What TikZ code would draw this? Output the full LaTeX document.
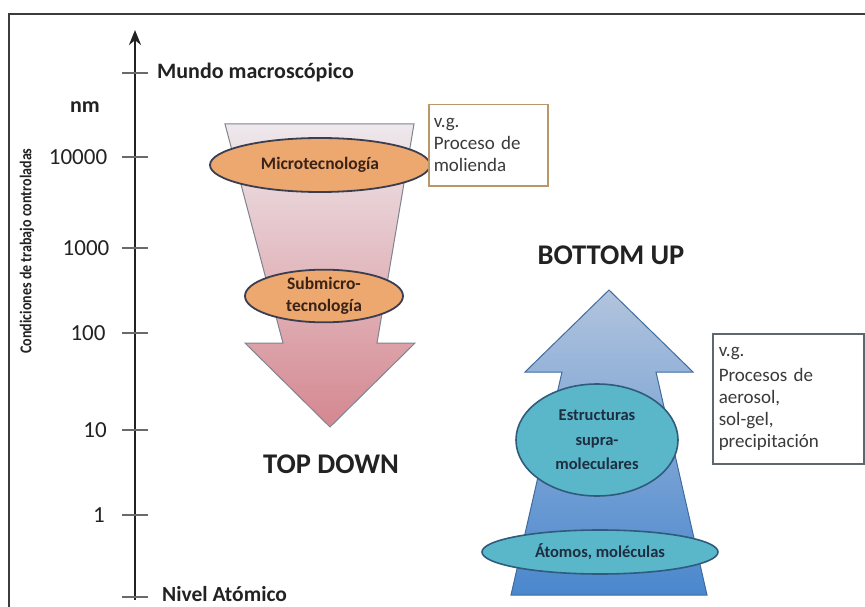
\documentclass[tikz,border=0pt]{standalone}
\usepackage{fontspec}
\setmainfont{Carlito}
\usetikzlibrary{shapes.geometric,arrows.meta}
\definecolor{framec}{HTML}{3C3C3C}
\definecolor{axisc}{HTML}{222222}
\definecolor{tickc}{HTML}{6A6A6A}
\definecolor{tdtop}{HTML}{EEE8EC}
\definecolor{tdmid}{HTML}{E3C8CE}
\definecolor{tdbot}{HTML}{D5878F}
\definecolor{tdline}{HTML}{7E8490}
\definecolor{butop}{HTML}{B2C4DD}
\definecolor{bumid}{HTML}{8CAEDA}
\definecolor{bubot}{HTML}{4A87CE}
\definecolor{buline}{HTML}{3F6C9E}
\definecolor{orfill}{HTML}{ECA86E}
\definecolor{orline}{HTML}{3A3E50}
\definecolor{ortext}{HTML}{3A2218}
\definecolor{tlfill}{HTML}{5AB7C9}
\definecolor{tlline}{HTML}{2F5B7C}
\definecolor{tltext}{HTML}{1E2D40}
\definecolor{boxone}{HTML}{B8976A}
\definecolor{boxtwo}{HTML}{5E666E}
\definecolor{boxtext}{HTML}{3A3A3A}
\tikzset{
  tickmark/.style={draw=tickc, line width=1.5pt},
  axlabel/.style={inner sep=0pt, text=axisc, font=\bfseries\fontsize{22}{24}\selectfont},
  numlabel/.style={inner sep=0pt, text=axisc, font=\fontsize{23}{26}\selectfont},
  bigtitle/.style={inner sep=0pt, text=axisc, font=\bfseries\fontsize{28.5}{32}\selectfont},
  orell/.style={ellipse, draw=orline, line width=1.8pt, fill=orfill, inner sep=0pt,
     text=ortext, align=center, font=\bfseries\fontsize{17.5}{22}\selectfont},
  tlell/.style={ellipse, draw=tlline, line width=1.6pt, fill=tlfill, inner sep=0pt,
     text=tltext, align=center, font=\bfseries\fontsize{16.5}{24.5}\selectfont},
  exbox/.style={rectangle, line width=1.5pt, fill=white, text=boxtext, align=left,
     font=\fontsize{19}{22}\selectfont, anchor=north west, inner ysep=0pt},
}
\begin{document}
\begin{tikzpicture}[x=1pt,y=-1pt]
\useasboundingbox (0,0) rectangle (865,607);
\fill[white] (0,0) rectangle (865,607);
% frame
\draw[framec, line width=2pt] (9,607) -- (9,14) -- (865,14);

% axis
\coordinate (axbot) at (135,600);
\coordinate (axtop) at (135,30);
\draw[axisc, line width=2.8pt, -{Stealth[length=15pt,width=12pt]}] (axbot) -- (axtop);
\foreach \yy in {73,157,248,333,430,515,597}{
  \draw[tickmark] (122,\yy) -- (148,\yy);
}
\node[axlabel, anchor=west] (mundo) at (157,73) {Mundo macroscópico};
\node[axlabel, anchor=west, font=\bfseries\fontsize{21.5}{24}\selectfont] (nivel) at (162,594) {Nivel Atómico};
\node[axlabel] (nm) at (85,107) {nm};
\node[numlabel] (n10000) at (78,157) {10000};
\node[numlabel] (n1000) at (86,248) {1000};
\node[numlabel] (n100) at (88,333) {100};
\node[numlabel] (n10) at (95,430) {10};
\node[numlabel] (n1) at (99,515) {1};
\node[rotate=90, inner sep=0pt, text=axisc, font=\bfseries\fontsize{16.5}{18}\selectfont] (ylab) at (27,251) {\scalebox{0.85}[1]{Condiciones de trabajo controladas}};

% top-down arrow
\shade[top color=tdtop, middle color=tdmid, bottom color=tdbot, draw=tdline, line width=1pt]
  (225,124) -- (414,124) -- (377,343) -- (415,343) -- (330,427) -- (245,343) -- (283,343) -- cycle;
\node[orell, minimum width=220, minimum height=54] (micro) at (320,165) {Microtecnología};
\node[orell, minimum width=158, minimum height=52] (submicro) at (324,296) {Submicro-\\tecnología};
\node[bigtitle] (topdown) at (331,464) {TOP DOWN};

% bottom-up arrow
\shade[top color=butop, middle color=bumid, bottom color=bubot, draw=buline, line width=1pt]
  (609,290) -- (693,372) -- (656,372) -- (707,595) -- (511,595) -- (562,372) -- (525,372) -- cycle;
\node[tlell, minimum width=162, minimum height=112] (supra) at (597,440) {Estructuras\\supra-\\moleculares};
\node[tlell, minimum width=236, minimum height=44] (atomos) at (600,552) {Átomos, moléculas};
\node[bigtitle] (bottomup) at (611,255) {BOTTOM UP};

% example boxes
\node[exbox, draw=boxone, minimum width=119, minimum height=81, text width=109, inner xsep=5pt] (ex1) at (428,104) {v.g.\\Proceso de\\molienda};
\node[exbox, draw=boxtwo, minimum width=151, minimum height=130, text width=139, inner xsep=6pt] (ex2) at (712,333) {v.g.\\[3pt]Procesos de\\aerosol,\\sol-gel,\\precipitación};
\end{tikzpicture}
\end{document}
